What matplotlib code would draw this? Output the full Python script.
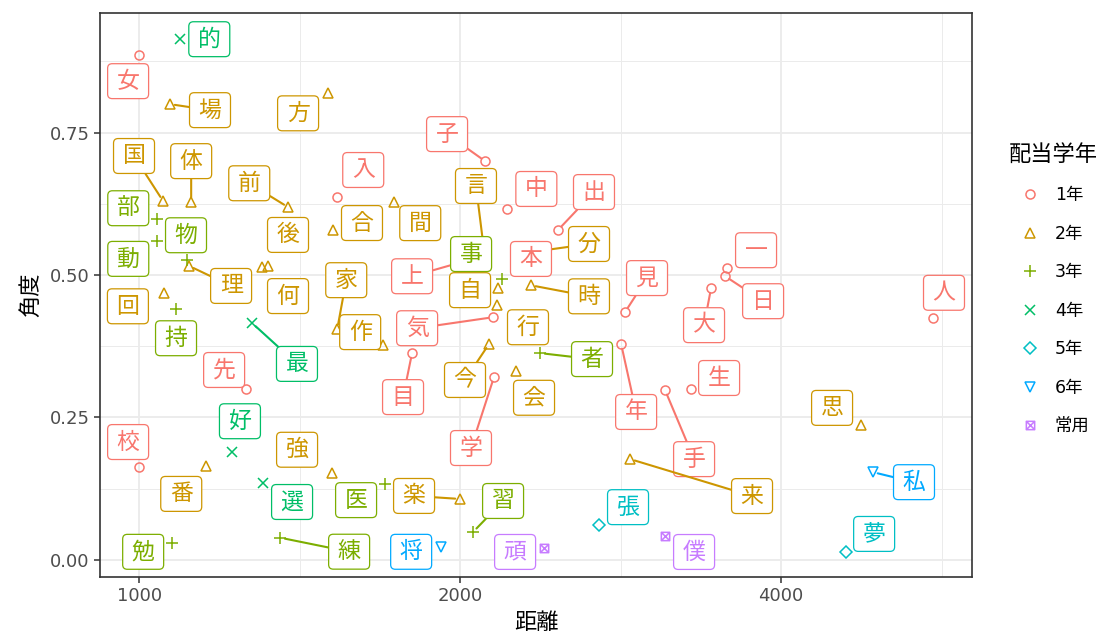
import numpy as np
import matplotlib
matplotlib.use('Agg')
import matplotlib.pyplot as plt
from matplotlib.path import Path
from matplotlib.patches import BoxStyle
from matplotlib.lines import Line2D
from matplotlib.ticker import FixedLocator, NullFormatter

plt.rcParams['font.family'] = ['Noto Sans CJK JP', 'DejaVu Sans']
num_font = ['DejaVu Sans', 'Noto Sans CJK JP']  # wide digits, kanji falls back

# data
kanji = ['女', '子', '中', '入', '出', '本', '上', '見', '一', '日', '大', '人', '気', '目', '学', '年', '生', '手', '先', '校',
         '場', '方', '国', '体', '前', '後', '何', '合', '間', '理', '家', '作', '回', '自', '行', '言', '時', '分', '今', '会',
         '楽', '強', '番', '来', '思',
         '部', '動', '物', '持', '事', '者', '医', '習', '練', '勉',
         '的', '最', '好', '選',
         '張', '夢',
         '私', '将',
         '頑', '僕']
distance = [1000, 2111, 2215, 1534, 2471, 2331, 2035, 2856, 3560, 3545, 3439, 5554, 2148, 1803, 2152, 2832, 3294, 3114, 1260, 1000,
            1069, 1504, 1053, 1119, 1380, 1321, 1304, 1520, 1735, 1114, 1534, 1694, 1055, 2171, 2166, 2106, 2331, 2408, 2129, 2257,
            2000, 1517, 1156, 2887, 4755,
            1040, 1040, 1109, 1083, 2190, 2377, 1701, 2057, 1356, 1074,
            1093, 1276, 1222, 1307,
            2700, 4604,
            4879, 1920,
            2398, 3114]
angle = [0.886, 0.700, 0.616, 0.637, 0.579, 0.523, 0.526, 0.435, 0.512, 0.498, 0.477, 0.425, 0.426, 0.363, 0.321, 0.379, 0.300, 0.298, 0.300, 0.163,
         0.800, 0.819, 0.630, 0.628, 0.619, 0.516, 0.514, 0.579, 0.628, 0.516, 0.405, 0.377, 0.468, 0.477, 0.447, 0.544, 0.482, 0.544, 0.379, 0.332,
         0.107, 0.153, 0.165, 0.177, 0.237,
         0.598, 0.560, 0.526, 0.440, 0.493, 0.363, 0.133, 0.049, 0.039, 0.030,
         0.914, 0.416, 0.189, 0.135,
         0.061, 0.014,
         0.154, 0.023,
         0.021, 0.042]
grade = ['1年'] * 20 + ['2年'] * 25 + ['3年'] * 10 + ['4年'] * 4 + ['5年'] * 2 + ['6年'] * 2 + ['常用'] * 2

grades = ['1年', '2年', '3年', '4年', '5年', '6年', '常用']

# label placement (pixel offsets from the point, like ggrepel put them)
label_dx = [-11, -38, 29, 26, 36, 0, -56, 22, 29, 38, -7, 11, -76, -9, -23, 15, 28, 29, -22, -11,
            40, -30, -29, 0, -39, 20, 26, 29, 26, 42, 9, -23, -36, -28, 31, -8, 58, 43, -24, 18,
            -46, -35, -25, 122, -29,
            -29, -29, -1, 0, -31, 52, -29, 30, 69, -29,
            29, 45, 8, 29,
            29, 28,
            41, -30,
            -29, 29]
label_dy = [-26, 27, 20, 27, 38, 3, -16, 34, 18, -25, -37, 25, -11, -44, -71, -68, 11, -69, 19, 25,
            -6, -20, 45, 41, 24, 31, -29, 7, -21, -20, 49, 13, -13, -2, -22, 64, -11, 6, -36, -27,
            3, 23, -28, -37, 17,
            11, -18, 25, -29, 25, -6, -16, 31, -14, -9,
            0, -41, 31, -19,
            18, 18,
            -10, -5,
            -4, -16]
with_segment = {'子', '出', '上', '見', '日', '大', '気', '目', '学', '年', '手',
                '場', '国', '体', '前', '理', '家', '言', '時', '分', '今', '楽', '来',
                '者', '習', '練', '最', '私'}
on_top = {'本', '事'}

colors = {'1年': '#F8766D', '2年': '#CD9600', '3年': '#7CAE00', '4年': '#00BE67',
          '5年': '#00BFC4', '6年': '#00A9FF', '常用': '#C77CFF'}

# square with a cross (ggplot shape 7)
sq_cross = Path([(-1, -1), (1, -1), (1, 1), (-1, 1), (-1, -1), (-1, -1), (1, 1), (-1, 1), (1, -1)],
                [Path.MOVETO, Path.LINETO, Path.LINETO, Path.LINETO, Path.CLOSEPOLY,
                 Path.MOVETO, Path.LINETO, Path.MOVETO, Path.LINETO])
markers = {'1年': 'o', '2年': '^', '3年': '+', '4年': 'x', '5年': 'D', '6年': 'v', '常用': sq_cross}
msizes = {'1年': 6.5, '2年': 7.5, '3年': 8, '4年': 7, '5年': 6.5, '6年': 7.5, '常用': 6}


def label_box(x0, y0, width, height, mutation_size):
    # wider horizontal than vertical padding, small corner radius
    px = 0.395 * mutation_size
    py = 0.26 * mutation_size
    return BoxStyle.Round(pad=0, rounding_size=0.2)(
        x0 - px, y0 - py, width + 2 * px, height + 2 * py, mutation_size)


fig = plt.figure(figsize=(11.1, 6.38), dpi=100)
ax = fig.add_axes([100 / 1110, 1 - 577 / 638, 872 / 1110, 564 / 638])

ax.set_xscale('log')
ax.set_xlim(919, 6042)
ax.set_ylim(-0.030, 0.960)

x = np.array(distance)
y = np.array(angle)
g = np.array(grade)

for gr in grades:
    m = g == gr
    mk = markers[gr]
    if mk in ('+', 'x'):
        ax.plot(x[m], y[m], ls='none', marker=mk, ms=msizes[gr], mew=1.1, color=colors[gr], zorder=3)
    else:
        ax.plot(x[m], y[m], ls='none', marker=mk, ms=msizes[gr], mew=1.1, mfc='none', mec=colors[gr], zorder=3)

for k, xi, yi, gr, dx, dy in zip(kanji, distance, angle, grade, label_dx, label_dy):
    c = colors[gr]
    arrow = None
    if k in with_segment:
        arrow = dict(arrowstyle='-', color=c, lw=1.5, shrinkA=0, shrinkB=3.5)
    ax.annotate(k, xy=(xi, yi), xytext=(dx, dy), textcoords='offset pixels',
                ha='center', va='center', fontsize=16.5, color=c,
                bbox=dict(boxstyle=label_box, fc='white', ec=c, lw=0.9),
                arrowprops=arrow, zorder=6 if k in on_top else 5)

# axes styling like theme_bw
ax.set_xticks([1000, 2000, 4000])
ax.set_xticklabels(['1000', '2000', '4000'], family=num_font)
ax.xaxis.set_minor_locator(FixedLocator([1000 * 2 ** 0.5, 2000 * 2 ** 0.5, 4000 * 2 ** 0.5]))
ax.xaxis.set_minor_formatter(NullFormatter())
ax.set_yticks([0, 0.25, 0.5, 0.75])
ax.set_yticklabels(['0.00', '0.25', '0.50', '0.75'], family=num_font)
ax.yaxis.set_minor_locator(FixedLocator([0.125, 0.375, 0.625, 0.875]))
ax.grid(True, which='major', color='#EBEBEB', lw=1.3, zorder=0)
ax.grid(True, which='minor', color='#EBEBEB', lw=0.7, zorder=0)
ax.set_axisbelow(True)
ax.tick_params(which='major', length=4, width=1.1, color='#333333', labelcolor='#4D4D4D', labelsize=13)
ax.tick_params(which='minor', length=0)
for s in ax.spines.values():
    s.set_color('#333333')
    s.set_linewidth(1.2)

ax.set_xlabel('距離', fontsize=16, labelpad=4)
ax.set_ylabel('角度', fontsize=16, labelpad=5)

handles = []
for gr in grades:
    mk = markers[gr]
    if mk in ('+', 'x'):
        h = Line2D([], [], ls='none', marker=mk, ms=msizes[gr], mew=1.1, color=colors[gr])
    else:
        h = Line2D([], [], ls='none', marker=mk, ms=msizes[gr], mew=1.1, mfc='none', mec=colors[gr])
    handles.append(h)
leg = fig.legend(handles, grades, title='配当学年', loc='upper left',
                 bbox_to_anchor=(1000 / 1110, 1 - 134 / 638), frameon=False,
                 prop={'family': num_font, 'size': 12.5}, title_fontsize=16, labelspacing=1.18,
                 handlelength=2.5, handletextpad=0.15, borderpad=0, alignment='left')
leg.get_title().set_family(['Noto Sans CJK JP', 'DejaVu Sans'])

fig.savefig('out.png', dpi=100)
